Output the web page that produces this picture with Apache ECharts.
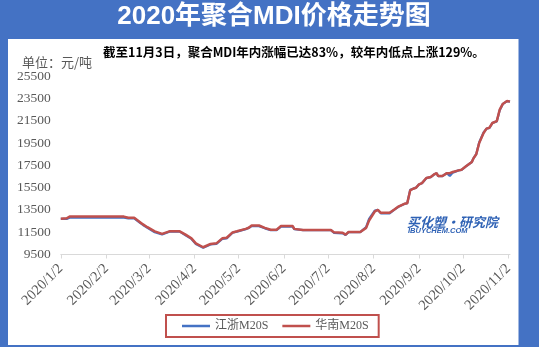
<!DOCTYPE html>
<html>
<head>
<meta charset="utf-8">
<script src="https://cdn.jsdelivr.net/npm/echarts@6/dist/echarts.min.js"></script>
<style>html,body{margin:0;padding:0;background:#4472C4;}#c{width:539px;height:347px;}</style>
</head>
<body>
<div id="c"></div>
<script>
// ---- data ----
const dates = ['2020-01-02','2020-01-06','2020-01-08','2020-02-14','2020-02-17','2020-02-21','2020-02-25','2020-02-27',
'2020-03-01','2020-03-06','2020-03-11','2020-03-16','2020-03-23','2020-03-27','2020-03-31','2020-04-03','2020-04-08',
'2020-04-13','2020-04-17','2020-04-21','2020-04-24','2020-04-28','2020-05-01','2020-05-07','2020-05-09','2020-05-11',
'2020-05-16','2020-05-20','2020-05-24','2020-05-28','2020-05-31','2020-06-08','2020-06-09','2020-06-15','2020-07-04',
'2020-07-06','2020-07-12','2020-07-14','2020-07-16','2020-07-24','2020-07-28','2020-07-30','2020-08-03','2020-08-05',
'2020-08-06','2020-08-07','2020-08-13','2020-08-16','2020-08-19','2020-08-23','2020-08-25','2020-08-27','2020-08-29',
'2020-08-31','2020-09-02','2020-09-04','2020-09-07','2020-09-10','2020-09-12','2020-09-14','2020-09-15','2020-09-18',
'2020-09-21','2020-09-23','2020-09-25','2020-09-29','2020-10-01','2020-10-04','2020-10-08','2020-10-09','2020-10-11',
'2020-10-13','2020-10-16','2020-10-18','2020-10-20','2020-10-22','2020-10-25','2020-10-27','2020-10-29','2020-11-01','2020-11-03'];
const hnM20S = [12700,12750,12900,12900,12800,12800,12400,12200,
11950,11580,11350,11580,11580,11280,10950,10500,10150,
10450,10500,10950,11000,11480,11580,11800,11900,12100,
12100,11890,11720,11720,12050,12050,11800,11700,11700,
11500,11450,11280,11520,11520,11890,12550,13380,13510,
13510,13240,13240,13510,13800,14050,14100,15250,15400,
15490,15790,15900,16360,16450,16660,16800,16540,16540,
16800,16800,16900,17050,17110,17410,17800,18100,18500,
19500,20400,20800,20880,21300,21470,22500,23000,23270,23220];
const jzM20S = [12700,12700,12800,12800,12750,12750,12350,12150,
11900,11500,11300,11550,11550,11230,10900,10450,10100,
10400,10450,10900,10950,11450,11550,11780,11880,12050,
12050,11850,11680,11680,12000,12000,11780,11680,11680,
11450,11400,11250,11500,11500,11950,12700,13450,13500,
13500,13200,13200,13500,13780,14030,14100,15300,15400,
15500,15780,15900,16350,16450,16650,16800,16540,16540,
16800,16550,16850,17050,17100,17400,17800,18100,18500,
19550,20450,20800,20850,21300,21450,22450,22990,23270,23220];
const tickLabels = ['2020/1/2','2020/2/2','2020/3/2','2020/4/2','2020/5/2','2020/6/2','2020/7/2','2020/8/2','2020/9/2','2020/10/2','2020/11/2'];
const yMin = 9500, yMax = 25500, yStep = 2000;
const xStart = '2020-01-02', xEnd = '2020-11-03';

const DAY = 86400000;
function ts(s){ const p = s.split(/[-\/]/).map(Number); return Date.UTC(p[0], p[1]-1, p[2]); }
const t0 = ts(xStart);
function dayIdx(s){ return Math.round((ts(s) - t0) / DAY); }
function fmt(v){ const d = new Date(t0 + Math.round(v) * DAY); return d.getUTCFullYear()+'/'+(d.getUTCMonth()+1)+'/'+d.getUTCDate(); }

const tickVals = tickLabels.map(dayIdx);
const serif = '"Liberation Serif","Noto Sans CJK SC",serif';
const chart = echarts.init(document.getElementById('c'), null, {renderer:'canvas'});
chart.setOption({
  backgroundColor: '#4472C4',
  animation: false,
  graphic: [
    {type:'rect', shape:{x:8, y:39, width:510.5, height:306}, style:{fill:'#ffffff'}, z:-10},
    {type:'text', x:274, y:17, style:{text:'2020年聚合MDI价格走势图', fill:'#ffffff', font:'bold 26px "Liberation Sans","Noto Sans CJK SC",sans-serif', textAlign:'center', textVerticalAlign:'middle'}},
    {type:'text', x:103, y:52, style:{text:'截至11月3日，聚合MDI年内涨幅已达83%，较年内低点上涨129%。', fill:'#000000', font:'bold 12.5px "Noto Sans CJK SC",sans-serif', textAlign:'left', textVerticalAlign:'middle'}},
    {type:'text', x:22, y:62, style:{text:'单位：元/吨', fill:'#595959', font:'13px "Noto Sans CJK SC",sans-serif', textAlign:'left', textVerticalAlign:'middle'}},
    {type:'text', x:407, y:222, style:{text:'买化塑·研究院', fill:'#2F62B5', font:'italic bold 13px "Noto Sans CJK SC",sans-serif', textAlign:'left', textVerticalAlign:'middle'}},
    {type:'text', x:408, y:231, style:{text:'IBUYCHEM.COM', fill:'#2F62B5', font:'italic bold 7.5px "Liberation Sans",sans-serif', textAlign:'left', textVerticalAlign:'middle'}}
  ],
  grid: {left:60.8, right:29, top:76.2, bottom:92.5, containLabel:false},
  legend: {
    left:166, top:315, padding:[5,10,5,16], itemGap:14, itemWidth:28, itemHeight:2.5,
    borderColor:'#C0504D', borderWidth:2,
    textStyle:{color:'#595959', fontSize:12, fontFamily:serif},
    data:[{name:'江浙M20S', icon:'rect'},{name:'华南M20S', icon:'rect'}]
  },
  xAxis: {
    type:'value', min:0, max:dayIdx(xEnd),
    axisLine:{show:true, onZero:false, lineStyle:{color:'#D9D9D9', width:1}},
    axisTick:{show:true, length:4, lineStyle:{color:'#D9D9D9'}, customValues:tickVals},
    axisLabel:{show:true, rotate:45, margin:12, color:'#595959', fontSize:14.5, fontFamily:serif, customValues:tickVals, formatter:function(v){return fmt(v);}, hideOverlap:false},
    splitLine:{show:false}, minorTick:{show:false}
  },
  yAxis: {
    type:'value', min:yMin, max:yMax, interval:yStep,
    axisLine:{show:false}, axisTick:{show:false}, splitLine:{show:false},
    axisLabel:{color:'#595959', fontSize:13.5, fontFamily:serif, margin:10, formatter:function(v){return String(v);}}
  },
  series: [
    {name:'江浙M20S', type:'line', showSymbol:false, symbol:'none', color:'#4472C4', lineStyle:{width:2.25, color:'#4472C4'}, data:dates.map((d,i)=>[dayIdx(d), jzM20S[i]]), z:2},
    {name:'华南M20S', type:'line', showSymbol:false, symbol:'none', color:'#C0504D', lineStyle:{width:2.5, color:'#C0504D'}, data:dates.map((d,i)=>[dayIdx(d), hnM20S[i]]), z:3}
  ]
});
</script>
</body>
</html>
